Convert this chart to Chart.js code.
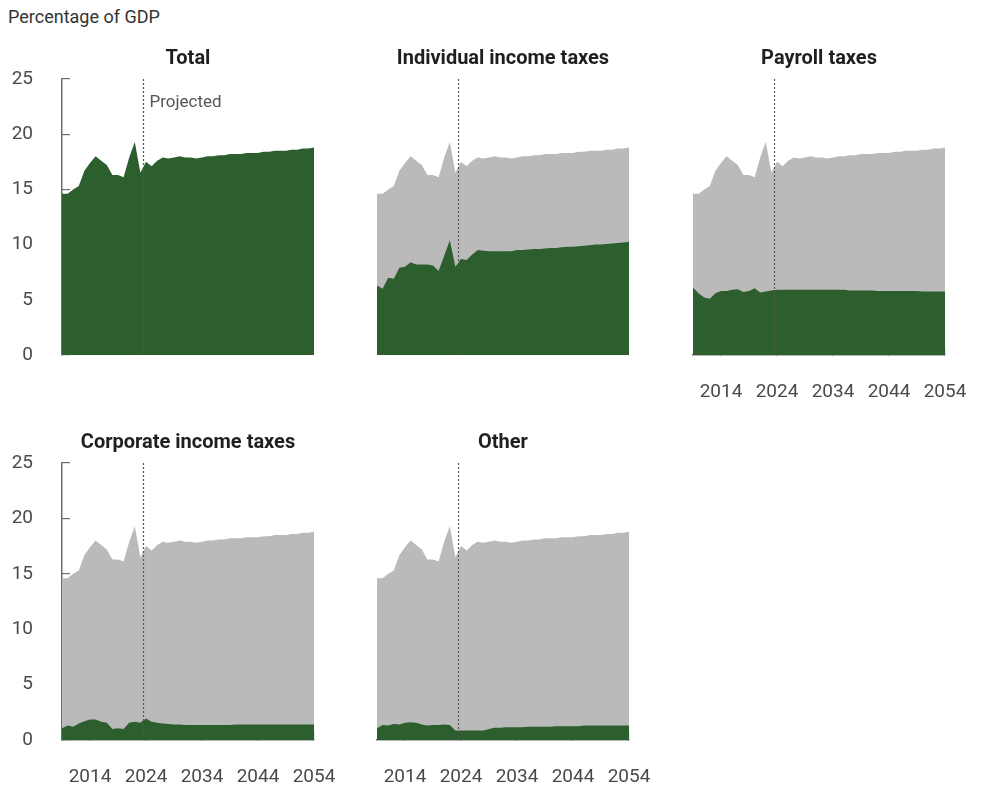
<!DOCTYPE html>
<html>
<head>
<meta charset="utf-8">
<script src="https://cdn.jsdelivr.net/npm/chart.js@4.4.1/dist/chart.umd.min.js"></script>
<style>
  body { margin: 0; background: #fff; width: 984px; height: 788px; position: relative; overflow: hidden; font-family: Roboto, sans-serif; }
  canvas { position: absolute; }
  #unit { position: absolute; left: 8px; top: 6px; font-size: 18px; color: #333; }
</style>
</head>
<body>
<div id="unit">Percentage of GDP</div>
<canvas id="c0"></canvas>
<canvas id="c1"></canvas>
<canvas id="c2"></canvas>
<canvas id="c3"></canvas>
<canvas id="c4"></canvas>
<script>
const years = [2009, 2010, 2011, 2012, 2013, 2014, 2015, 2016, 2017, 2018,
  2019, 2020, 2021, 2022, 2023, 2024, 2025, 2026, 2027, 2028,
  2029, 2030, 2031, 2032, 2033, 2034, 2035, 2036, 2037, 2038,
  2039, 2040, 2041, 2042, 2043, 2044, 2045, 2046, 2047, 2048,
  2049, 2050, 2051, 2052, 2053, 2054];

const totalRev = [14.6, 14.6, 15.0, 15.3, 16.7, 17.4, 18.0, 17.6, 17.2, 16.3,
  16.3, 16.1, 17.9, 19.3, 16.5, 17.5, 17.1, 17.6, 17.9, 17.8,
  17.9, 18.0, 17.9, 17.9, 17.8, 17.9, 18.0, 18.0, 18.1, 18.1,
  18.2, 18.2, 18.2, 18.3, 18.3, 18.3, 18.4, 18.4, 18.5, 18.5,
  18.5, 18.6, 18.6, 18.7, 18.7, 18.8];

const individual = [6.3, 6.0, 7.0, 6.9, 7.9, 8.0, 8.4, 8.2, 8.2, 8.2,
  8.1, 7.6, 9.0, 10.4, 8.0, 8.7, 8.6, 9.1, 9.5, 9.45,
  9.4, 9.4, 9.4, 9.4, 9.4, 9.5, 9.5, 9.55, 9.6, 9.6,
  9.65, 9.7, 9.7, 9.75, 9.8, 9.8, 9.85, 9.9, 9.95, 10.0,
  10.0, 10.05, 10.1, 10.15, 10.2, 10.25];

const payroll = [6.1, 5.6, 5.2, 5.1, 5.6, 5.8, 5.8, 5.9, 5.95, 5.7,
  5.8, 6.05, 5.65, 5.75, 5.85, 5.9, 5.9, 5.9, 5.9, 5.9,
  5.9, 5.9, 5.9, 5.9, 5.9, 5.9, 5.9, 5.9, 5.85, 5.85,
  5.85, 5.85, 5.85, 5.8, 5.8, 5.8, 5.8, 5.8, 5.8, 5.8,
  5.8, 5.75, 5.75, 5.75, 5.75, 5.75];

const corporate = [1.05, 1.3, 1.2, 1.5, 1.7, 1.85, 1.85, 1.65, 1.55, 1.0,
  1.05, 1.0, 1.55, 1.65, 1.55, 1.95, 1.65, 1.55, 1.5, 1.45,
  1.4, 1.4, 1.35, 1.35, 1.35, 1.35, 1.35, 1.35, 1.35, 1.35,
  1.35, 1.4, 1.4, 1.4, 1.4, 1.4, 1.4, 1.4, 1.4, 1.4,
  1.4, 1.4, 1.4, 1.4, 1.4, 1.4];

const other = [1.05, 1.35, 1.3, 1.45, 1.4, 1.55, 1.6, 1.55, 1.4, 1.3,
  1.35, 1.35, 1.4, 1.35, 0.85, 0.85, 0.85, 0.85, 0.85, 0.85,
  1.0, 1.1, 1.1, 1.15, 1.15, 1.15, 1.15, 1.2, 1.2, 1.2,
  1.2, 1.2, 1.25, 1.25, 1.25, 1.25, 1.25, 1.3, 1.3, 1.3,
  1.3, 1.3, 1.3, 1.3, 1.3, 1.3];

const xTicks = [2014, 2024, 2034, 2044, 2054];
const yTicks = [0, 5, 10, 15, 20, 25];
const projectedAt = 2023.5;

const GREEN = '#2c5e2e';
const GRAY = '#bababa';
const AXIS = '#6e6e6e';
const LABEL = '#4a4a4a';

// plot area of each panel in page pixels: [left, top, right, bottom]
const panels = [
  { title: 'Total', values: totalRev, back: false, area: [62, 79, 314, 355], showY: true, showX: false, note: true },
  { title: 'Individual income taxes', values: individual, back: true, area: [377, 79, 629, 355], showY: false, showX: false },
  { title: 'Payroll taxes', values: payroll, back: true, area: [693, 79, 945, 355], showY: false, showX: true },
  { title: 'Corporate income taxes', values: corporate, back: true, area: [62, 463, 314, 740], showY: true, showX: true },
  { title: 'Other', values: other, back: true, area: [377, 463, 629, 740], showY: false, showX: true },
];

const PAD_L = 62, PAD_T = 45, PAD_R = 30, PAD_B = 55;

const pts = vals => years.map((x, i) => ({ x, y: vals[i] }));

const overlay = {
  id: 'overlay',
  afterDatasetsDraw(chart, args, opts) {
    const { ctx, chartArea: a, scales: { x } } = chart;
    const px = Math.round(x.getPixelForValue(projectedAt)) + 0.5;
    ctx.save();
    ctx.strokeStyle = '#555';
    ctx.lineWidth = 1.2;
    ctx.setLineDash([2, 2]);
    ctx.beginPath();
    ctx.moveTo(px, a.top);
    ctx.lineTo(px, a.bottom);
    ctx.stroke();
    ctx.setLineDash([]);
    if (opts.note) {
      ctx.fillStyle = '#555';
      ctx.font = '17px Roboto, sans-serif';
      ctx.textBaseline = 'middle';
      ctx.textAlign = 'left';
      ctx.fillText('Projected', px + 6, a.top + 24);
    }
    ctx.restore();
  },
  afterDraw(chart, args, opts) {
    const { ctx, chartArea: a } = chart;
    ctx.save();
    ctx.fillStyle = '#1f1f1f';
    ctx.font = 'bold 20px Roboto, sans-serif';
    ctx.textAlign = 'center';
    ctx.textBaseline = 'middle';
    ctx.fillText(opts.title, (a.left + a.right) / 2, a.top - 20);
    ctx.restore();
  }
};

panels.forEach((p, i) => {
  const [l, t, r, b] = p.area;
  const canvas = document.getElementById('c' + i);
  const w = (r - l) + PAD_L + PAD_R;
  const h = (b - t) + PAD_T + PAD_B;
  canvas.style.left = (l - PAD_L) + 'px';
  canvas.style.top = (t - PAD_T) + 'px';
  canvas.style.width = w + 'px';
  canvas.style.height = h + 'px';
  canvas.width = w;
  canvas.height = h;

  const datasets = [{
    data: pts(p.values),
    backgroundColor: GREEN,
    borderWidth: 0,
    pointRadius: 0,
    fill: 'origin',
    tension: 0,
  }];
  if (p.back) {
    datasets.push({
      data: pts(totalRev),
      backgroundColor: GRAY,
      borderWidth: 0,
      pointRadius: 0,
      fill: 'origin',
      tension: 0,
    });
  }

  new Chart(canvas, {
    type: 'line',
    data: { datasets },
    options: {
      responsive: false,
      animation: false,
      events: [],
      layout: {
        padding: { top: PAD_T, right: PAD_R, left: p.showY ? 0 : PAD_L, bottom: p.showX ? 0 : PAD_B },
      },
      plugins: {
        legend: { display: false },
        tooltip: { enabled: false },
        overlay: { title: p.title, note: !!p.note },
      },
      scales: {
        x: {
          type: 'linear',
          min: 2009, max: 2054,
          display: p.showX,
          z: 1,
          afterBuildTicks: s => { s.ticks = xTicks.map(v => ({ value: v })); },
          afterFit: s => {
            if (p.showX) s.height = PAD_B;
            s.paddingLeft = 0;
            s.paddingRight = 0;
          },
          border: { display: true, color: AXIS, width: 1.5 },
          grid: { drawOnChartArea: false, color: AXIS, lineWidth: 1.2, tickLength: -8 },
          ticks: {
            color: LABEL, padding: 34,
            font: { family: 'Roboto, sans-serif', size: 19 },
            maxRotation: 0,
            callback: v => String(v),
          },
        },
        y: {
          min: 0, max: 25,
          display: p.showY,
          z: 1,
          afterBuildTicks: s => { s.ticks = yTicks.map(v => ({ value: v })); },
          afterFit: s => {
            if (p.showY) s.width = PAD_L;
            s.paddingTop = 0;
            s.paddingBottom = 0;
          },
          border: { display: true, color: AXIS, width: 1.5 },
          grid: { drawOnChartArea: false, color: AXIS, lineWidth: 1.2, tickLength: -8 },
          ticks: {
            color: LABEL, padding: 37,
            font: { family: 'Roboto, sans-serif', size: 19 },
            callback: v => String(v),
          },
        },
      },
    },
    plugins: [overlay],
  });
});
</script>
</body>
</html>
